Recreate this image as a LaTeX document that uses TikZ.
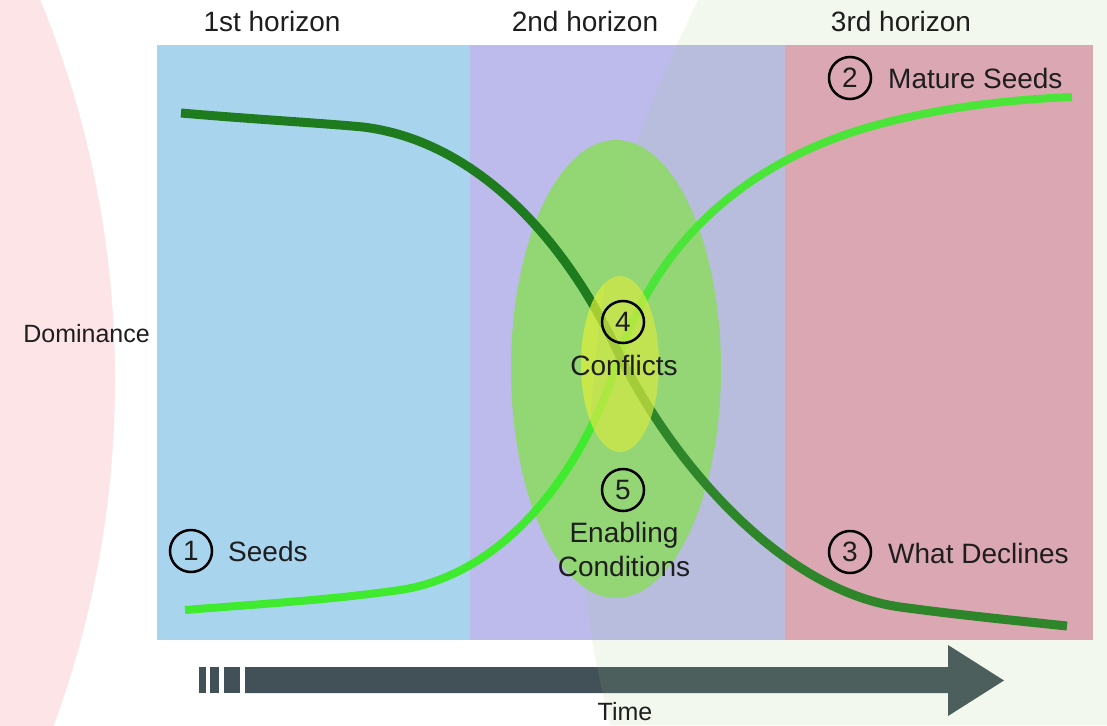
\documentclass[tikz,border=0pt]{standalone}
\usepackage{fontspec}
\setmainfont{Liberation Sans}
\usetikzlibrary{shapes.geometric}
\definecolor{pinkbg}{HTML}{FDE4E7}
\definecolor{tintg}{RGB}{155,201,124}
\definecolor{hblue}{HTML}{A9D4EE}
\definecolor{hpurple}{HTML}{BDBBEC}
\definecolor{hpink}{HTML}{E5A2BB}
\definecolor{bigell}{HTML}{93D775}
\definecolor{smallell}{HTML}{DFEF3A}
\definecolor{darkcurve}{HTML}{1E7B1E}
\definecolor{lightcurve}{HTML}{3FEA2F}
\definecolor{arrowcol}{HTML}{425058}
\definecolor{txt}{HTML}{1E1E1E}
\begin{document}
\begin{tikzpicture}[x=1pt,y=-1pt,
  lbl/.style={font=\fontsize{28}{30}\selectfont, text=txt, inner sep=0pt},
  axislbl/.style={font=\fontsize{25}{27}\selectfont, text=txt, inner sep=0pt},
  num/.style={circle, draw=black, line width=2.5pt, minimum size=42pt, inner sep=0pt, font=\fontsize{28}{28}\selectfont, text=txt},
  curve/.style={line width=#1, line join=round},
  ]
\useasboundingbox (0,0) rectangle (1107,725);
\clip (0,0) rectangle (1107,725);
\fill[white] (0,0) rectangle (1107,725);
% left pink disc
\fill[pinkbg] (-885,380) circle [radius=1000pt];
% horizon panels
\fill[hblue] (157,45) rectangle (470,640);
\fill[hpurple] (470,45) rectangle (785,640);
\fill[hpink] (785,45) rectangle (1093,640);
% big ellipse
\fill[bigell] (616,369) ellipse [x radius=105pt, y radius=229pt];
% curves
\draw[curve=8pt, lightcurve] (185,610) .. controls (260,604) and (330,600) .. (400,590)
  .. controls (500,575) and (580,480) .. (618,360)
  .. controls (650,260) and (725,175) .. (850,133)
  .. controls (920,110) and (1000,100) .. (1072,97);
\draw[curve=9pt, darkcurve] (181,113) .. controls (250,119) and (320,123) .. (363,127)
  .. controls (470,140) and (560,230) .. (617,350)
  .. controls (670,460) and (780,590) .. (900,607)
  .. controls (960,615) and (1010,620) .. (1067,626);
% small ellipse
\fill[smallell, opacity=0.7] (620,364) ellipse [x radius=39pt, y radius=88pt];
% time arrow
\fill[arrowcol] (245,667) -- (948,667) -- (948,645) -- (1004,680.5) -- (948,716) -- (948,693) -- (245,693) -- cycle;
\fill[arrowcol] (199,667) rectangle (206,693);
\fill[arrowcol] (210,667) rectangle (219,693);
\fill[arrowcol] (224,667) rectangle (240,693);
% light green tint region
\fill[tintg, opacity=0.13] plot[smooth] coordinates {(698,0) (677,45) (645,120) (620,200) (600,320) (588,450) (584,560) (592,640) (610,725)} -- (1107,725) -- (1107,0) -- cycle;
% headers
\node[lbl, anchor=base] (h1) at (272,32) {1st horizon};
\node[lbl, anchor=base] (h2) at (585,32) {2nd horizon};
\node[lbl, anchor=base] (h3) at (901,32) {3rd horizon};
\node[axislbl, anchor=base east] (dom) at (150,342) {Dominance};
\node[axislbl, anchor=base] (time) at (625,720) {Time};
% numbered labels
\node[num] (n1) at (191,551) {1};
\node[lbl, anchor=base west] (l1) at (228,561) {Seeds};
\node[num] (n2) at (850,78) {2};
\node[lbl, anchor=base west] (l2) at (888,88) {Mature Seeds};
\node[num] (n3) at (850,552) {3};
\node[lbl, anchor=base west] (l3) at (888,563) {What Declines};
\node[num] (n4) at (623,322) {4};
\node[lbl, anchor=base] (l4) at (624,375) {Conflicts};
\node[num] (n5) at (623,490) {5};
\node[lbl, anchor=base] (l5a) at (624,542) {Enabling};
\node[lbl, anchor=base] (l5b) at (624,576) {Conditions};
\end{tikzpicture}
\end{document}
